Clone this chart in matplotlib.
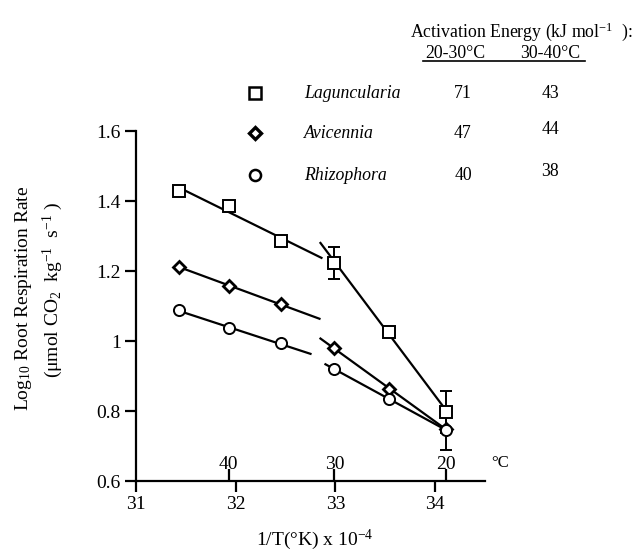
import numpy as np
import matplotlib
matplotlib.use("Agg")
import matplotlib.pyplot as plt
from matplotlib.lines import Line2D

plt.rcParams['font.family'] = ['Liberation Serif', 'DejaVu Serif']
plt.rcParams['mathtext.fontset'] = 'custom'
plt.rcParams['mathtext.rm'] = 'Liberation Serif'
plt.rcParams['mathtext.it'] = 'Liberation Serif:italic'
plt.rcParams['mathtext.default'] = 'rm'

# ---- data ----
inv_T = [31.43, 31.93, 32.45, 32.99, 33.54, 34.11]      # 1/T (K) x 10^-4 for 45..20 C
temps_c = ['40', '30', '20']
temps_pos = [31.93, 32.99, 34.11]
species = ['Laguncularia', 'Avicennia', 'Rhizophora']
lag = [1.429, 1.387, 1.286, 1.223, 1.026, 0.798]
avi = [1.212, 1.158, 1.105, 0.979, 0.863, 0.748]
rhi = [1.088, 1.036, 0.993, 0.919, 0.835, 0.745]
ea_20_30 = [71, 47, 40]
ea_30_40 = [43, 44, 38]
lag_err = [0, 0, 0, 0.045, 0, 0.060]
avi_err = [0, 0, 0, 0, 0, 0.060]

xticks = [31, 32, 33, 34]
yticks = [0.6, 0.8, 1.0, 1.2, 1.4, 1.6]
ytick_labels = ['0.6', '0.8', '1', '1.2', '1.4', '1.6']

W, H = 632, 556
fig = plt.figure(figsize=(W / 100, H / 100), dpi=100)
ax = fig.add_axes([136 / W, 1 - 481 / H, (485 - 136) / W, (481 - 131) / H])
ax.set_xlim(31, 34.5)
ax.set_ylim(0.6, 1.6)

FS = 14
FT = 12.8
lw = 1.6
x = np.array(inv_T)

series = [(lag, 's', 8, 1.4, [32.86, 32.85]),
          (avi, 'D', 6, 2.0, [32.84, 32.85]),
          (rhi, 'o', 8, 1.4, [32.75, 32.90])]

for vals, mk, ms, mew, (end1, start2) in series:
    v = np.array(vals)
    # regression line, warm range (first three points)
    p1 = np.polyfit(x[:3], v[:3], 1)
    xs1 = np.array([x[0], end1])
    ax.plot(xs1, np.polyval(p1, xs1), color='black', lw=lw, zorder=2)
    # regression line, cool range (last three points)
    p2 = np.polyfit(x[3:], v[3:], 1)
    xs2 = np.array([start2, x[-1]])
    ax.plot(xs2, np.polyval(p2, xs2), color='black', lw=lw, zorder=2)

# error bars
for vals, err in [(lag, lag_err), (avi, avi_err)]:
    v = np.array(vals); e = np.array(err)
    m = e > 0
    ax.errorbar(x[m], v[m], yerr=e[m], fmt='none', ecolor='black',
                elinewidth=1.4, capsize=4, capthick=1.4, zorder=2)

for vals, mk, ms, mew, _ in series:
    ax.plot(x, vals, linestyle='none', marker=mk, markersize=ms,
            markerfacecolor='white', markeredgecolor='black',
            markeredgewidth=mew, zorder=3, clip_on=False)

for s in ['top', 'right']:
    ax.spines[s].set_visible(False)
for s in ['left', 'bottom']:
    ax.spines[s].set_linewidth(1.6)
ax.set_xticks(xticks)
ax.set_xticklabels([str(t) for t in xticks])
ax.set_yticks(yticks)
ax.set_yticklabels(ytick_labels)
ax.tick_params(direction='out', length=8, width=1.6, labelsize=FS, pad=3)

# temperature (C) axis drawn on the bottom spine, ticks upward
ax2 = ax.twiny()
ax2.set_xlim(ax.get_xlim())
ax2.spines['top'].set_position(('axes', 0.0))
for s in ['top', 'right', 'left', 'bottom']:
    ax2.spines[s].set_visible(False)
ax2.xaxis.set_ticks_position('top')
ax2.xaxis.set_label_position('top')
ax2.set_xticks(temps_pos)
ax2.set_xticklabels(temps_c)
ax2.tick_params(axis='x', direction='out', length=9, width=1.6, labelsize=FS, pad=-3)
fig.text(500 / W, 1 - 463 / H, '°C', fontsize=12, ha='center', va='center')

# axis labels
fig.text(315 / W, 1 - 540 / H, r'1/T(°K) x 10$^{-4}$', fontsize=FS, ha='center', va='center')
fig.text(24 / W, 1 - 298 / H, r'Log$_{10}$ Root Respiration Rate', fontsize=FS,
         rotation=90, ha='center', va='center')
fig.text(53 / W, 1 - 290 / H, r'($\mu$mol CO$_2$  kg$^{-1}$  s$^{-1}$ )', fontsize=FS,
         rotation=90, ha='center', va='center')

# activation energy table / legend
fig.text(410 / W, 1 - 32 / H, r'Activation Energy (kJ mol$^{-1}$  ):', fontsize=FT,
         ha='left', va='center')
fig.text(455 / W, 1 - 53 / H, '20-30°C', fontsize=FT, ha='center', va='center')
fig.text(550 / W, 1 - 53 / H, '30-40°C', fontsize=FT, ha='center', va='center')
fig.add_artist(Line2D([423 / W, 585 / W], [1 - 61 / H, 1 - 61 / H], color='black',
                      lw=1.2, transform=fig.transFigure))
rows_y = [93, 133, 175]
key_style = [('s', 8, 1.8), ('D', 6, 2.4), ('o', 8, 1.8)]
for i, name in enumerate(species):
    yy = 1 - rows_y[i] / H
    mk, ms, mew = key_style[i]
    fig.add_artist(Line2D([255 / W], [yy], marker=mk, markersize=ms,
                          markerfacecolor='white', markeredgecolor='black',
                          markeredgewidth=mew, linestyle='none',
                          transform=fig.transFigure))
    fig.text(304 / W, yy, name, fontsize=FT, style='italic', ha='left', va='center')
    fig.text(463 / W, yy, str(ea_20_30[i]), fontsize=FT, ha='center', va='center')
    fig.text(550 / W, yy + (4 / H if i > 0 else 0), str(ea_30_40[i]), fontsize=FT,
             ha='center', va='center')

fig.savefig('out.png', dpi=100)
